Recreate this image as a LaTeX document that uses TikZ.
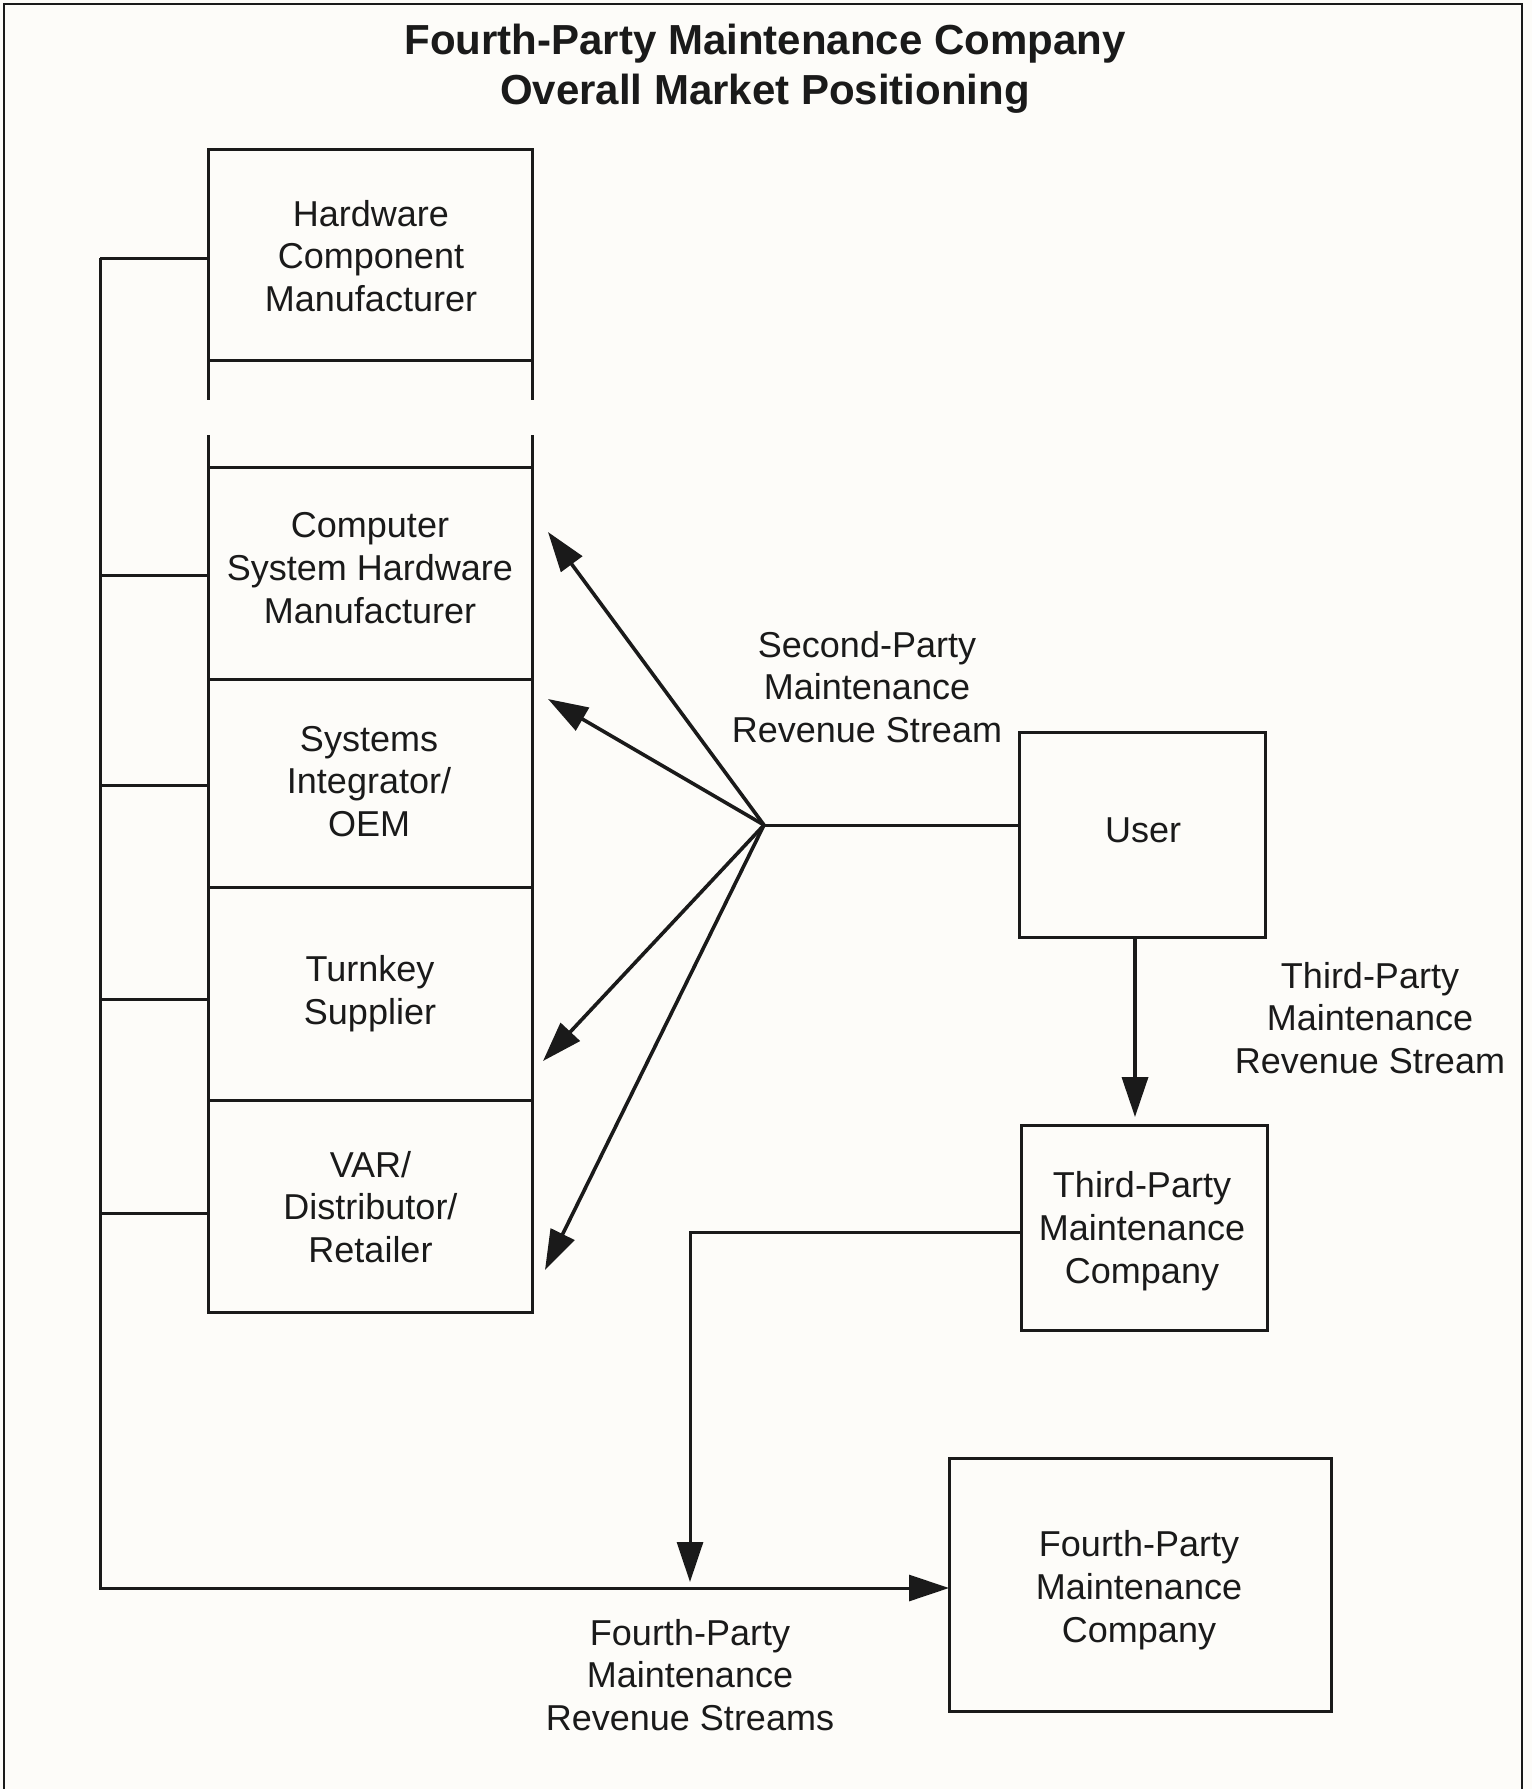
\documentclass[tikz,border=0pt]{standalone}
\usepackage{fontspec}
\setmainfont{Liberation Sans}
\usetikzlibrary{arrows.meta}
\definecolor{paper}{RGB}{253,252,249}
\definecolor{ink}{RGB}{26,26,26}
\newcommand{\bodyfont}{\fontsize{18}{21.4}\selectfont}
\newcommand{\titlefont}{\fontsize{21}{24.8}\selectfont\bfseries}
\begin{document}
\begin{tikzpicture}[x=0.5pt,y=-0.5pt,
  conn/.style={draw=ink, line width=1.5pt},
  arr/.style={draw=ink, line width=1.8pt, -{Triangle[length=20pt,width=13pt]}},
  box/.style={draw=ink, line width=1.5pt, inner sep=0pt, outer sep=0pt},
  stackbox/.style={box, minimum width=162pt},
  lbl/.style={align=center, inner sep=0pt, font=\bodyfont, text=ink}]

% page and frame
\useasboundingbox (0,0) rectangle (1532,1789);
\fill[paper] (0,0) rectangle (1532,1789);
\draw[ink, line width=1pt] (4,1789) -- (4,4) -- (1522,4) -- (1522,1789);

% title
\node[align=center, inner sep=0pt, font=\titlefont, text=ink] (title) at (765,68.5)
  {Fourth-Party Maintenance Company\\Overall Market Positioning};

% manufacturer / reseller column
\node[stackbox, minimum height=105.5pt] (hw)  at (370,254.5) {};
\node[stackbox, minimum height=106pt]   (csh) at (370,573)   {};
\node[stackbox, minimum height=104pt]   (sio) at (370,783)   {};
\node[stackbox, minimum height=106.5pt] (tky) at (370,993.5) {};
\node[stackbox, minimum height=106pt]   (var) at (370,1206)  {};
\node[lbl] (hwtxt)  at (371,256)    {Hardware\\Component\\Manufacturer};
\node[lbl] (cshtxt) at (370,568)    {Computer\\System Hardware\\Manufacturer};
\node[lbl] (siotxt) at (369,781.5)  {Systems\\Integrator/\\OEM};
\node[lbl] (tkytxt) at (370,993.5)  {Turnkey\\Supplier};
\node[lbl] (vartxt) at (370.5,1207) {VAR/\\Distributor/\\Retailer};

% broken column sides between the two upper boxes
\draw[conn] (hw.north west) -- ++(0,251);
\draw[conn] (hw.north east) -- ++(0,251);
\draw[conn] (csh.south west) -- ++(0,-244);
\draw[conn] (csh.south east) -- ++(0,-244);

% right-hand boxes
\node[box, minimum width=123pt, minimum height=102.5pt] (user)   at (1142,834.5)  {};
\node[box, minimum width=123pt, minimum height=102.5pt] (third)  at (1144,1227.5) {};
\node[box, minimum width=191pt, minimum height=126.5pt] (fourth) at (1140,1584.5) {};
\node[lbl] (usertxt)   at (1143,830)  {User};
\node[lbl] (thirdtxt)  at (1142,1231) {Third-Party\\Maintenance\\Company};
\node[lbl] (fourthtxt) at (1139,1590) {Fourth-Party\\Maintenance\\Company};

% stream labels
\node[lbl] (l2) at (867,687)   {Second-Party\\Maintenance\\Revenue Stream};
\node[lbl] (l3) at (1370,1018) {Third-Party\\Maintenance\\Revenue Stream};
\node[lbl] (l4) at (690,1675)  {Fourth-Party\\Maintenance\\Revenue Streams};

% second-party fan
\coordinate (hub) at (764,825);
\coordinate (a1) at (548,532);
\coordinate (a2) at (548,699);
\coordinate (a3) at (543,1061);
\coordinate (a4) at (545,1270);
\draw[conn] (hub) -- (hub -| user.west);
\draw[arr] (hub) -- (a1);
\draw[arr] (hub) -- (a2);
\draw[arr] (hub) -- (a3);
\draw[arr] (hub) -- (a4);

% third-party stream
\coordinate (t3tip) at (1135,1117);
\draw[arr] (t3tip |- user.south) -- (t3tip);

% fourth-party streams
\coordinate (bus) at (100,0);
\coordinate (busbot) at (100,1588);
\coordinate (tapA) at (0,258);
\coordinate (tapB) at (0,575);
\coordinate (tapC) at (0,785);
\coordinate (tapD) at (0,999);
\coordinate (tapE) at (0,1213);
\coordinate (side3) at (0,1232);
\coordinate (drop) at (690,1582);
\draw[conn] (hw.west |- tapA)  -- (bus |- tapA);
\draw[conn] (csh.west |- tapB) -- (bus |- tapB);
\draw[conn] (sio.west |- tapC) -- (bus |- tapC);
\draw[conn] (tky.west |- tapD) -- (bus |- tapD);
\draw[conn] (var.west |- tapE) -- (bus |- tapE);
\draw[arr, line width=1.5pt] (bus |- tapA) -- (busbot) -- (busbot -| fourth.west);
\draw[arr, line width=1.5pt] (third.west |- side3) -| (drop);
\end{tikzpicture}
\end{document}
